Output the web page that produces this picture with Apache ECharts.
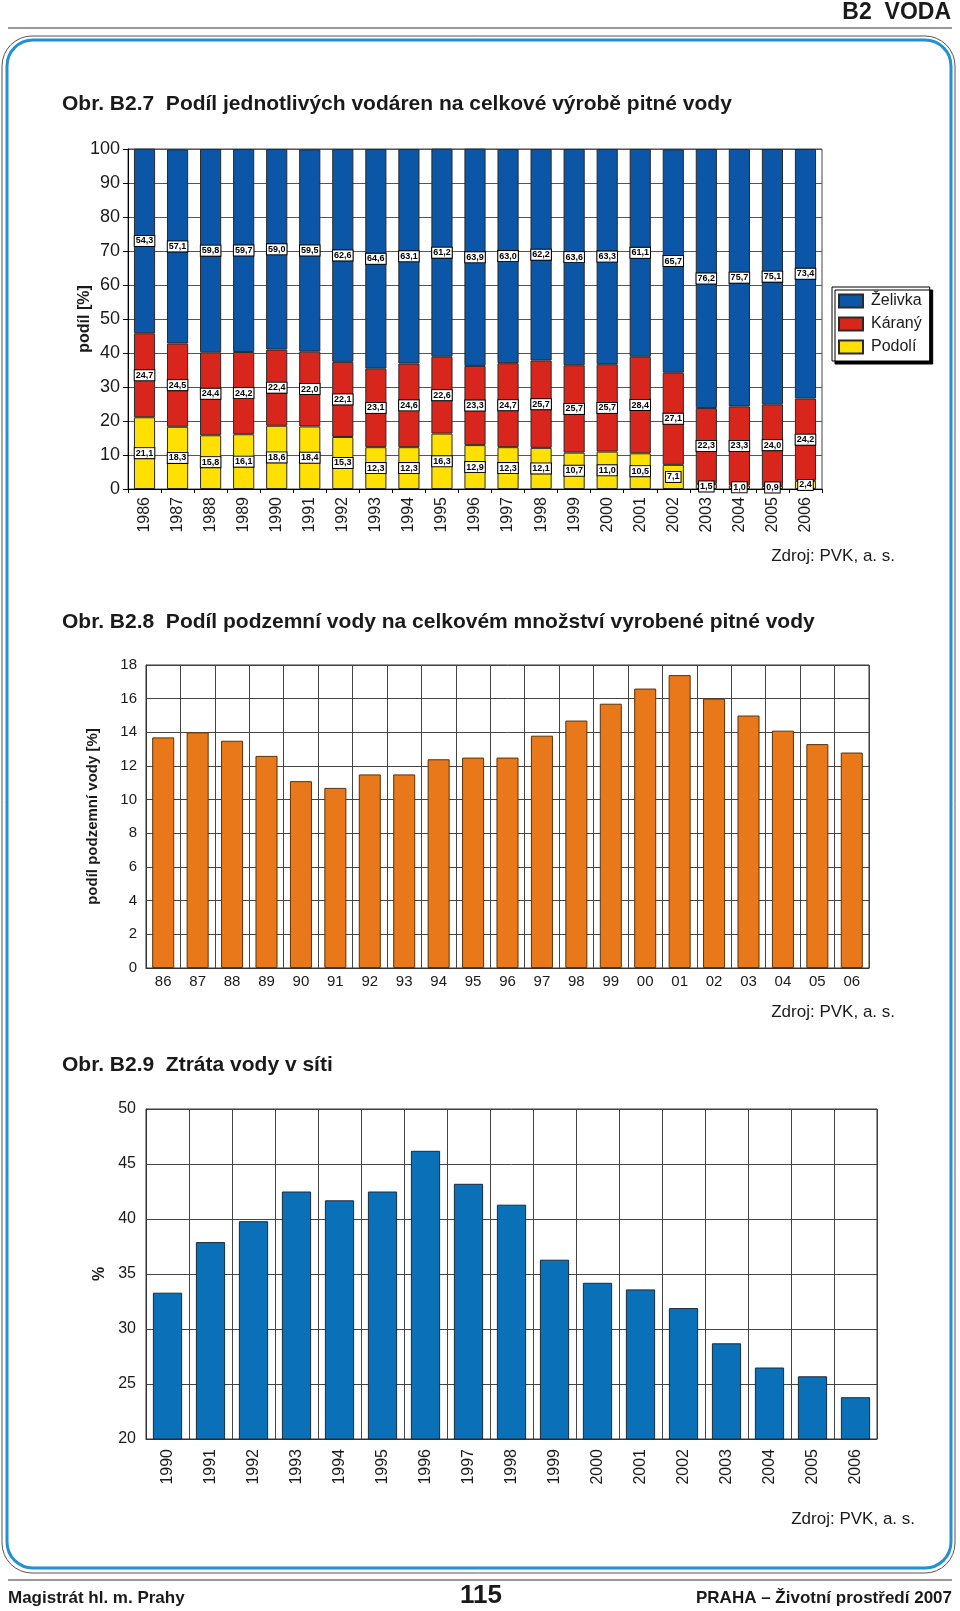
<!DOCTYPE html>
<html><head><meta charset="utf-8">
<script src="https://cdn.jsdelivr.net/npm/echarts@6/dist/echarts.min.js"></script>
<style>html,body{margin:0;padding:0;background:#fff}#c{width:960px;height:1611px}</style>
</head><body><div id="c"></div>
<script>
// ---- Obr. B2.7 ----
const years1 = ['1986','1987','1988','1989','1990','1991','1992','1993','1994','1995','1996','1997','1998','1999','2000','2001','2002','2003','2004','2005','2006'];
const zelivka = [54.3,57.1,59.8,59.7,59.0,59.5,62.6,64.6,63.1,61.2,63.9,63.0,62.2,63.6,63.3,61.1,65.7,76.2,75.7,75.1,73.4];
const karany  = [24.7,24.5,24.4,24.2,22.4,22.0,22.1,23.1,24.6,22.6,23.3,24.7,25.7,25.7,25.7,28.4,27.1,22.3,23.3,24.0,24.2];
const podoli  = [21.1,18.3,15.8,16.1,18.6,18.4,15.3,12.3,12.3,16.3,12.9,12.3,12.1,10.7,11.0,10.5,7.1,1.5,1.0,0.9,2.4];
const seriesNames1 = ['Želivka','Káraný','Podolí'];
// ---- Obr. B2.8 ----
const years2 = ['86','87','88','89','90','91','92','93','94','95','96','97','98','99','00','01','02','03','04','05','06'];
const groundwater = [13.7,14.0,13.5,12.6,11.1,10.7,11.5,11.5,12.4,12.5,12.5,13.8,14.7,15.7,16.6,17.4,16.0,15.0,14.1,13.3,12.8];
// ---- Obr. B2.9 ----
const years3 = ['1990','1991','1992','1993','1994','1995','1996','1997','1998','1999','2000','2001','2002','2003','2004','2005','2006'];
const loss = [33.3,37.9,39.8,42.5,41.7,42.5,46.2,43.2,41.3,36.3,34.2,33.6,31.9,28.7,26.5,25.7,23.8];

const FONT = 'Arial, "Liberation Sans", Helvetica, sans-serif';
const TXT = '#1a1a1a';
const fmt = p => p.value.toFixed(1).replace('.', ',');

const segLabel = {
  show: true, position: 'inside', formatter: fmt,
  fontFamily: FONT, fontSize: 9, fontWeight: 'bold', color: '#000',
  backgroundColor: '#fff', borderColor: '#000', borderWidth: 1, padding: [1, 1, 0, 1]
};
function stackSeries(name, data, color) {
  return {
    type: 'bar', name: name, stack: 'total', xAxisIndex: 0, yAxisIndex: 0,
    data: data, barWidth: '64%',
    itemStyle: { color: color, borderColor: '#2a2a2a', borderWidth: 1 },
    label: segLabel
  };
}

function txt(x, y, text, size, weight, align) {
  return { type: 'text', x: x, y: y, z: 10,
    style: { text: text, font: (weight || 'normal') + ' ' + size + 'px ' + FONT, fill: TXT,
      textAlign: align || 'left', textVerticalAlign: 'middle' } };
}

const chart = echarts.init(document.getElementById('c'), null, { renderer: 'canvas' });
chart.setOption({
  animation: false,
  backgroundColor: '#fff',
  textStyle: { fontFamily: FONT },
  grid: [
    { left: 128, top: 149, width: 694, height: 340, show: true, borderColor: '#444', borderWidth: 1 },
    { left: 146, top: 665, width: 723, height: 303, show: true, borderColor: '#333', borderWidth: 1 },
    { left: 146, top: 1109, width: 731, height: 330, show: true, borderColor: '#333', borderWidth: 1 }
  ],
  legend: {
    data: ['Želivka', 'Káraný', 'Podolí'], orient: 'vertical', left: 832, top: 287,
    itemWidth: 24, itemHeight: 13, itemGap: 7, padding: [6, 8, 6, 6], icon: 'rect',
    backgroundColor: '#fff', borderColor: '#000', borderWidth: 1, selectedMode: false,
    shadowColor: '#000', shadowBlur: 0, shadowOffsetX: 3, shadowOffsetY: 3,
    textStyle: { fontFamily: FONT, fontSize: 16, color: TXT, padding: [0, 0, 0, 3] }
  },
  xAxis: [
    { type: 'category', gridIndex: 0, data: years1,
      axisLine: { lineStyle: { color: '#000' } },
      axisTick: { show: true, length: 4, lineStyle: { color: '#000' } },
      axisLabel: { rotate: 90, fontSize: 16, color: TXT, margin: 8, fontFamily: FONT },
      splitLine: { show: false } },
    { type: 'category', gridIndex: 1, data: years2,
      axisLine: { lineStyle: { color: '#333' } },
      axisTick: { show: false },
      axisLabel: { fontSize: 15, color: TXT, margin: 6, fontFamily: FONT },
      splitLine: { show: true, lineStyle: { color: '#444', width: 1 } } },
    { type: 'category', gridIndex: 2, data: years3,
      axisLine: { lineStyle: { color: '#333' } },
      axisTick: { show: false },
      axisLabel: { rotate: 90, fontSize: 16, color: TXT, margin: 10, fontFamily: FONT },
      splitLine: { show: true, lineStyle: { color: '#444', width: 1 } } }
  ],
  yAxis: [
    { type: 'value', gridIndex: 0, min: 0, max: 100, interval: 10,
      name: 'podíl [%]', nameLocation: 'middle', nameGap: 35, nameMoveOverlap: false,
      nameTextStyle: { fontSize: 16, fontWeight: 'bold', color: TXT, fontFamily: FONT },
      axisLine: { show: true, lineStyle: { color: '#000' } },
      axisTick: { show: true, length: 5, lineStyle: { color: '#000' } },
      axisLabel: { fontSize: 18, color: TXT, margin: 8, fontFamily: FONT },
      splitLine: { show: true, lineStyle: { color: '#555', width: 1 } } },
    { type: 'value', gridIndex: 1, min: 0, max: 18, interval: 2,
      name: 'podíl podzemní vody [%]', nameLocation: 'middle', nameGap: 46,
      nameTextStyle: { fontSize: 15, fontWeight: 'bold', color: TXT, fontFamily: FONT },
      axisLine: { show: true, lineStyle: { color: '#333' } },
      axisTick: { show: false },
      axisLabel: { fontSize: 15, color: TXT, margin: 9, fontFamily: FONT },
      splitLine: { show: true, lineStyle: { color: '#444', width: 1 } } },
    { type: 'value', gridIndex: 2, min: 20, max: 50, interval: 5,
      name: '%', nameLocation: 'middle', nameGap: 36,
      nameTextStyle: { fontSize: 16, fontWeight: 'bold', color: TXT, fontFamily: FONT },
      axisLine: { show: true, lineStyle: { color: '#333' } },
      axisTick: { show: false },
      axisLabel: { fontSize: 16, color: TXT, margin: 10, fontFamily: FONT },
      splitLine: { show: true, lineStyle: { color: '#444', width: 1 } } }
  ],
  series: [
    stackSeries(seriesNames1[2], podoli, '#ffe000'),
    stackSeries(seriesNames1[1], karany, '#d9261c'),
    stackSeries(seriesNames1[0], zelivka, '#0b56a6'),
    { type: 'bar', name: 'podzemní voda', xAxisIndex: 1, yAxisIndex: 1, data: groundwater, barWidth: '64%',
      itemStyle: { color: '#e8781a', borderColor: '#5a3206', borderWidth: 1 } },
    { type: 'bar', name: 'ztráta vody', xAxisIndex: 2, yAxisIndex: 2, data: loss, barWidth: '68%',
      itemStyle: { color: '#0a71b8', borderColor: '#1a2a3a', borderWidth: 1 } }
  ],
  graphic: [
    // page frame
    { type: 'rect', z: 1, shape: { x: 2, y: 36, width: 953, height: 1537, r: 30 },
      style: { fill: 'none', stroke: '#555', lineWidth: 1 } },
    { type: 'rect', z: 1, shape: { x: 7, y: 40, width: 944, height: 1528, r: 26 },
      style: { fill: 'none', stroke: '#2290d4', lineWidth: 3 } },
    // header & footer lines
    { type: 'line', z: 1, shape: { x1: 8, y1: 28, x2: 952, y2: 28 }, style: { stroke: '#777', lineWidth: 1.5 } },
    { type: 'line', z: 1, shape: { x1: 8, y1: 1580, x2: 952, y2: 1580 }, style: { stroke: '#777', lineWidth: 1.5 } },
    txt(951, 13, 'B2  VODA', 23, 'bold', 'right'),
    txt(62, 104, 'Obr. B2.7  Podíl jednotlivých vodáren na celkové výrobě pitné vody', 21, 'bold'),
    txt(895, 556, 'Zdroj: PVK, a. s.', 17, 'normal', 'right'),
    txt(62, 622, 'Obr. B2.8  Podíl podzemní vody na celkovém množství vyrobené pitné vody', 21, 'bold'),
    txt(895, 1012, 'Zdroj: PVK, a. s.', 17, 'normal', 'right'),
    txt(62, 1065, 'Obr. B2.9  Ztráta vody v síti', 21, 'bold'),
    txt(915, 1519, 'Zdroj: PVK, a. s.', 17, 'normal', 'right'),
    txt(8, 1598, 'Magistrát hl. m. Prahy', 17, 'bold'),
    txt(481, 1596, '115', 26, 'bold', 'center'),
    txt(952, 1598, 'PRAHA – Životní prostředí 2007', 17, 'bold', 'right')
  ]
});
</script></body></html>
